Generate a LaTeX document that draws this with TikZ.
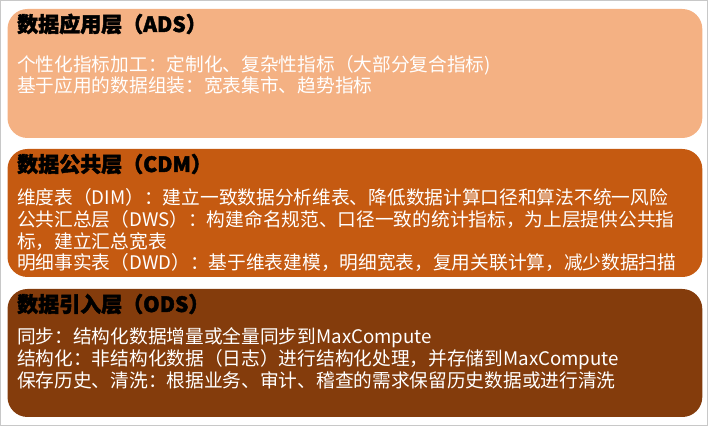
\documentclass[tikz,border=0pt]{standalone}
\usepackage{fontspec}
\setmainfont{Noto Sans CJK SC}
\newfontfamily\titlefont{Noto Sans CJK SC}[FakeBold=2]
\definecolor{adsc}{HTML}{F4B183}
\definecolor{cdmc}{HTML}{C55A11}
\definecolor{odsc}{HTML}{843C0C}
\definecolor{framec}{HTML}{C8C8C8}
\tikzset{
  layerbox/.style={rounded corners=20pt, draw=none},
  ttl/.style={anchor=base west, inner sep=0pt, text=black, font=\titlefont\fontsize{21}{24}\selectfont\bfseries},
  bodyline/.style={anchor=base west, inner sep=0pt, text=white, font=\fontsize{18.7}{21.7}\selectfont}
}
\begin{document}
\begin{tikzpicture}[x=1pt,y=-1pt]
\useasboundingbox (0,0) rectangle (710,427);
\draw[framec, line width=1pt] (0.5,0.5) rectangle (707.5,425.5);
\fill[adsc, layerbox] (7.5,9) rectangle (702.3,138);
\fill[cdmc, layerbox] (7.5,149) rectangle (702.3,277);
\fill[odsc, layerbox] (7.5,289) rectangle (702.3,417);

\node[ttl] (t1) at (17,32) {数据应用层（ADS）};
\node[bodyline] (a1) at (17,72) {个性化指标加工：定制化、复杂性指标（大部分复合指标)};
\node[bodyline] (a2) at (17,93) {基于应用的数据组装：宽表集市、趋势指标};

\node[ttl] (t2) at (17,172) {数据公共层（CDM）};
\node[bodyline] (c1) at (17,205) {维度表（DIM）：建立一致数据分析维表、降低数据计算口径和算法不统一风险};
\node[bodyline] (c2) at (17,227) {公共汇总层（DWS）：构建命名规范、口径一致的统计指标，为上层提供公共指};
\node[bodyline] (c3) at (17,249) {标，建立汇总宽表};
\node[bodyline] (c4) at (17,270) {明细事实表（DWD）：基于维表建模，明细宽表，复用关联计算，减少数据扫描};

\node[ttl] (t3) at (17,312) {数据引入层（ODS）};
\node[bodyline] (o1) at (17,344) {同步：结构化数据增量或全量同步到MaxCompute};
\node[bodyline] (o2) at (17,366) {结构化：非结构化数据（日志）进行结构化处理，并存储到MaxCompute};
\node[bodyline] (o3) at (17,388) {保存历史、清洗：根据业务、审计、稽查的需求保留历史数据或进行清洗};
\end{tikzpicture}
\end{document}
